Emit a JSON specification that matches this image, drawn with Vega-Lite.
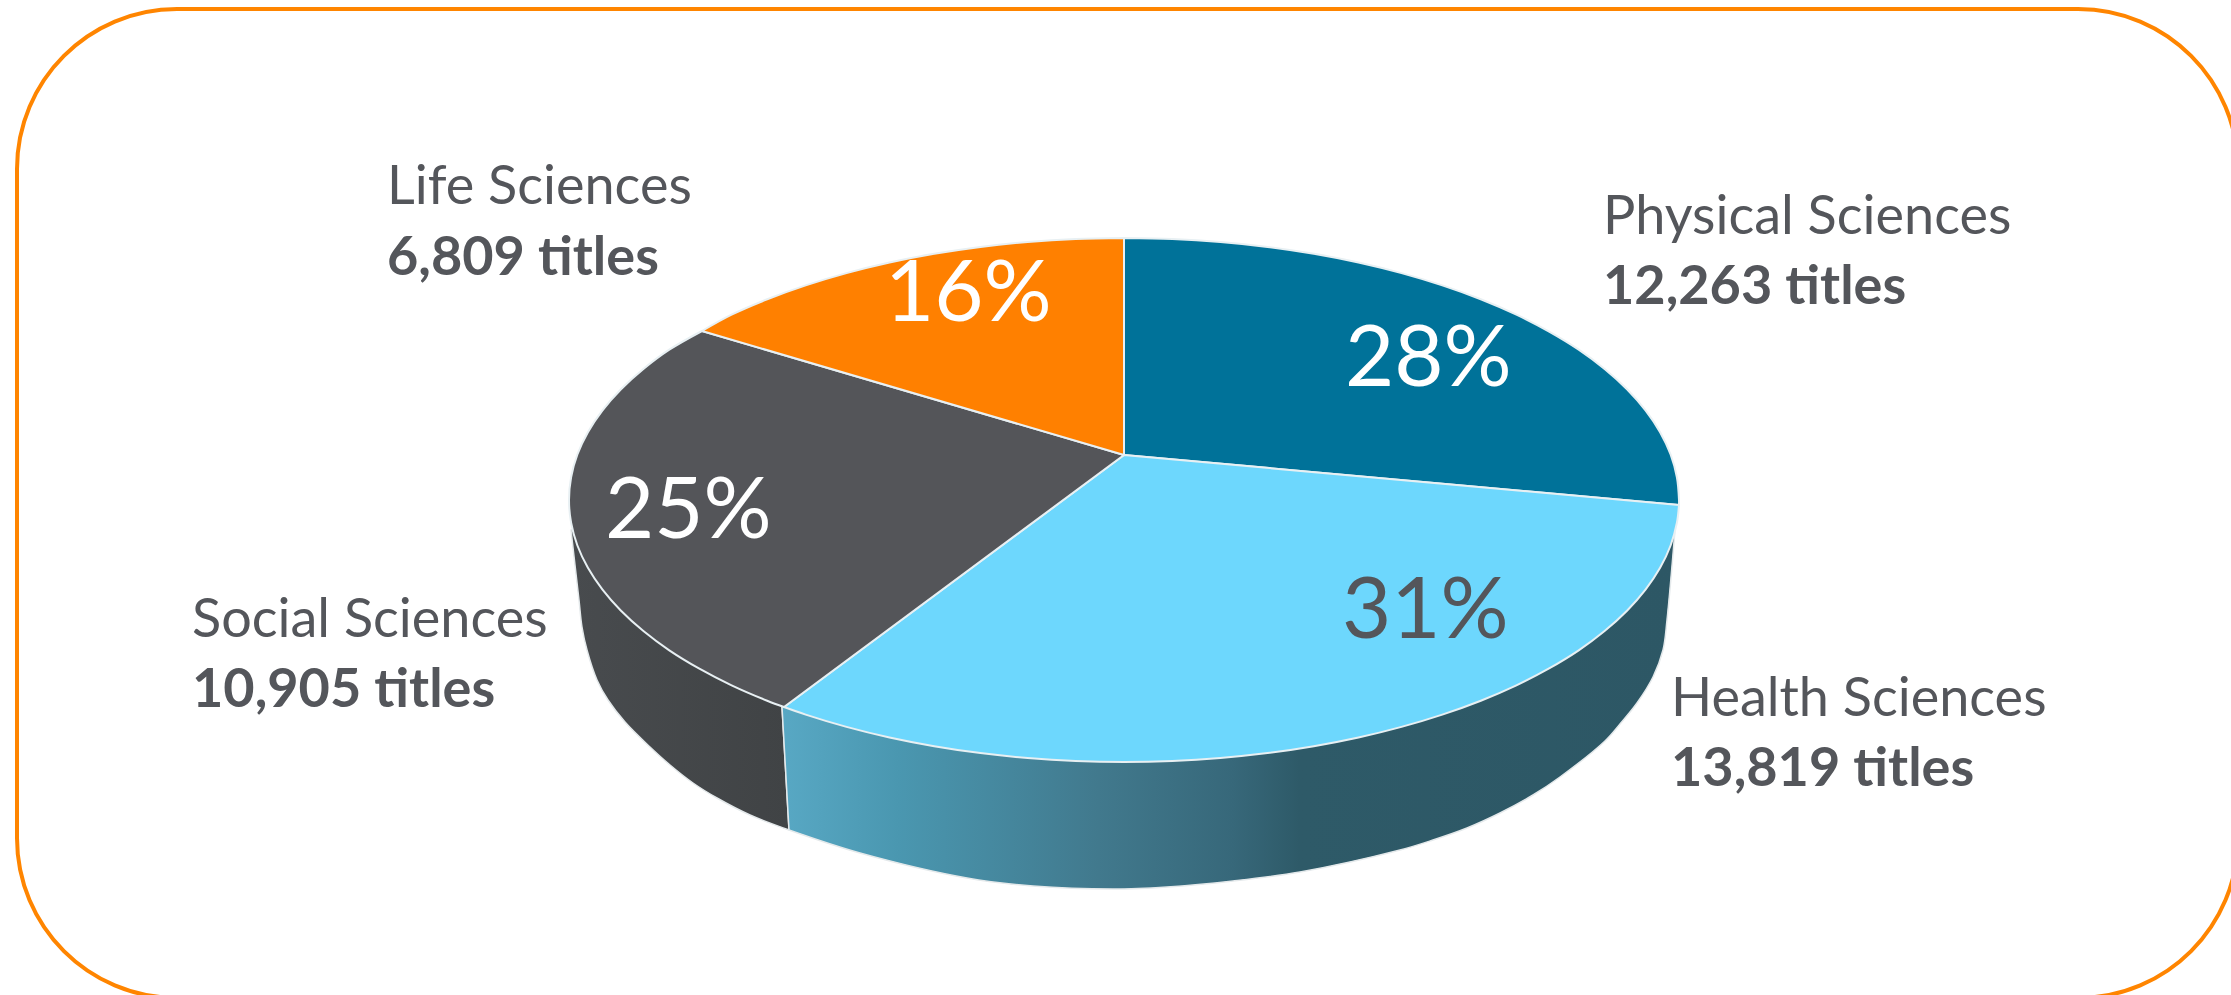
{
"$schema":"https://vega.github.io/schema/vega-lite/v6.json",
"width":2221,"height":989,
"autosize":{"type":"none"},
"padding":{"left":17,"top":9,"right":0,"bottom":0},
"background":"#ffffff",
"view":{"stroke":"#ff8500","strokeWidth":4,"cornerRadius":160,"fill":"#ffffff"},
"config":{"text":{"font":"Lato"}},
"datasets":{
"labels":[
{"category":"Physical Sciences","titles":12263,"titlesLabel":"12,263 titles","share":"28%","labelX":1603,"nameY":234,"titlesY":304,"shareX":1345,"shareY":386},
{"category":"Health Sciences","titles":13819,"titlesLabel":"13,819 titles","share":"31%","labelX":1671,"nameY":716,"titlesY":786,"shareX":1342,"shareY":638},
{"category":"Social Sciences","titles":10905,"titlesLabel":"10,905 titles","share":"25%","labelX":192,"nameY":637,"titlesY":707,"shareX":605,"shareY":538},
{"category":"Life Sciences","titles":6809,"titlesLabel":"6,809 titles","share":"16%","labelX":387,"nameY":204,"titlesY":275,"shareX":885,"shareY":321}
],
"socialWall":[
{"n":0,"x":782,"y":707},{"n":1,"x":782,"y":707},{"n":2,"x":789,"y":830},{"n":3,"x":789,"y":830},{"n":4,"x":750,"y":815},{"n":5,"x":717,"y":798},{"n":6,"x":693,"y":783},{"n":7,"x":670,"y":765},{"n":8,"x":650,"y":747},{"n":9,"x":625,"y":722},{"n":10,"x":608,"y":700},{"n":11,"x":597,"y":680},{"n":12,"x":587,"y":650},{"n":13,"x":582,"y":627},{"n":14,"x":579,"y":600},{"n":15,"x":571,"y":530},{"n":16,"x":571,"y":530},{"n":17,"x":700,"y":500},{"n":18,"x":700,"y":500},{"n":19,"x":782,"y":707},{"n":20,"x":782,"y":707}
],
"healthWall":[
{"n":0,"x":782,"y":707},{"n":1,"x":782,"y":707},{"n":2,"x":789,"y":830},{"n":3,"x":789,"y":830},{"n":4,"x":860,"y":853},{"n":5,"x":967,"y":878},{"n":6,"x":1033,"y":886},{"n":7,"x":1113,"y":889},{"n":8,"x":1167,"y":887},{"n":9,"x":1233,"y":881},{"n":10,"x":1300,"y":872},{"n":11,"x":1400,"y":850},{"n":12,"x":1433,"y":840},{"n":13,"x":1467,"y":828},{"n":14,"x":1500,"y":813},{"n":15,"x":1533,"y":795},{"n":16,"x":1560,"y":777},{"n":17,"x":1605,"y":741},{"n":18,"x":1620,"y":724},{"n":19,"x":1637,"y":703},{"n":20,"x":1653,"y":677},{"n":21,"x":1663,"y":650},{"n":22,"x":1667,"y":620},{"n":23,"x":1675,"y":530},{"n":24,"x":1675,"y":530},{"n":25,"x":1500,"y":500},{"n":26,"x":1500,"y":500},{"n":27,"x":782,"y":707},{"n":28,"x":782,"y":707}
],
"physical":[
{"n":0,"x":1124,"y":455},{"n":1,"x":1124,"y":455},{"n":2,"x":1124,"y":238},{"n":3,"x":1124,"y":238},{"n":4,"x":1172.4,"y":239},{"n":5,"x":1220.4,"y":242},{"n":6,"x":1267.6,"y":246.9},{"n":7,"x":1313.8,"y":253.8},{"n":8,"x":1358.5,"y":262.5},{"n":9,"x":1401.5,"y":273.1},{"n":10,"x":1442.3,"y":285.4},{"n":11,"x":1480.8,"y":299.3},{"n":12,"x":1516.4,"y":314.7},{"n":13,"x":1549.1,"y":331.6},{"n":14,"x":1578.7,"y":349.7},{"n":15,"x":1604.6,"y":369},{"n":16,"x":1627,"y":389.3},{"n":17,"x":1645.5,"y":410.4},{"n":18,"x":1660.1,"y":432.2},{"n":19,"x":1670.6,"y":454.5},{"n":20,"x":1676.9,"y":477.2},{"n":21,"x":1679,"y":500},{"n":22,"x":1679,"y":505},{"n":23,"x":1679,"y":505},{"n":24,"x":1124,"y":455},{"n":25,"x":1124,"y":455}
],
"health":[
{"n":0,"x":1124,"y":455},{"n":1,"x":1124,"y":455},{"n":2,"x":1679,"y":505},{"n":3,"x":1679,"y":505},{"n":4,"x":1676.9,"y":522.8},{"n":5,"x":1670.6,"y":545.5},{"n":6,"x":1660.1,"y":567.8},{"n":7,"x":1645.5,"y":589.6},{"n":8,"x":1627,"y":610.7},{"n":9,"x":1604.6,"y":631},{"n":10,"x":1578.7,"y":650.3},{"n":11,"x":1549.1,"y":668.4},{"n":12,"x":1516.4,"y":685.3},{"n":13,"x":1480.8,"y":700.7},{"n":14,"x":1442.3,"y":714.6},{"n":15,"x":1401.5,"y":726.9},{"n":16,"x":1358.5,"y":737.5},{"n":17,"x":1313.8,"y":746.2},{"n":18,"x":1267.6,"y":753.1},{"n":19,"x":1220.4,"y":758},{"n":20,"x":1172.4,"y":761},{"n":21,"x":1124,"y":762},{"n":22,"x":1075.6,"y":761},{"n":23,"x":1027.6,"y":758},{"n":24,"x":980.4,"y":753.1},{"n":25,"x":934.2,"y":746.2},{"n":26,"x":889.5,"y":737.5},{"n":27,"x":846.5,"y":726.9},{"n":28,"x":805.7,"y":714.6},{"n":29,"x":784,"y":707},{"n":30,"x":784,"y":707},{"n":31,"x":1124,"y":455},{"n":32,"x":1124,"y":455}
],
"social":[
{"n":0,"x":1124,"y":455},{"n":1,"x":1124,"y":455},{"n":2,"x":784,"y":707},{"n":3,"x":784,"y":707},{"n":4,"x":767.2,"y":700.7},{"n":5,"x":731.6,"y":685.3},{"n":6,"x":698.9,"y":668.4},{"n":7,"x":669.3,"y":650.3},{"n":8,"x":643.4,"y":631},{"n":9,"x":621,"y":610.7},{"n":10,"x":602.5,"y":589.6},{"n":11,"x":587.9,"y":567.8},{"n":12,"x":577.4,"y":545.5},{"n":13,"x":571.1,"y":522.8},{"n":14,"x":569,"y":500},{"n":15,"x":571.1,"y":477.2},{"n":16,"x":577.4,"y":454.5},{"n":17,"x":587.9,"y":432.2},{"n":18,"x":602.5,"y":410.4},{"n":19,"x":621,"y":389.3},{"n":20,"x":643.4,"y":369},{"n":21,"x":669.3,"y":349.7},{"n":22,"x":702,"y":331},{"n":23,"x":702,"y":331},{"n":24,"x":1124,"y":455},{"n":25,"x":1124,"y":455}
],
"life":[
{"n":0,"x":1124,"y":455},{"n":1,"x":1124,"y":455},{"n":2,"x":702,"y":331},{"n":3,"x":702,"y":331},{"n":4,"x":731.6,"y":314.7},{"n":5,"x":767.2,"y":299.3},{"n":6,"x":805.7,"y":285.4},{"n":7,"x":846.5,"y":273.1},{"n":8,"x":889.5,"y":262.5},{"n":9,"x":934.2,"y":253.8},{"n":10,"x":980.4,"y":246.9},{"n":11,"x":1027.6,"y":242},{"n":12,"x":1075.6,"y":239},{"n":13,"x":1124,"y":238},{"n":14,"x":1124,"y":238},{"n":15,"x":1124,"y":455},{"n":16,"x":1124,"y":455}
]
},
"layer":[
{
"encoding":{
"x":{"field":"x","type":"quantitative","axis":null,"scale":{"domain":[17,2238],"nice":false,"zero":false}},
"y":{"field":"y","type":"quantitative","axis":null,"scale":{"domain":[9,998],"nice":false,"zero":false,"reverse":true}},
"order":{"field":"n","type":"quantitative"}
},
"layer":[
{"data":{"name":"socialWall"},"mark":{"type":"line","interpolate":"catmull-rom","fill":{"gradient":"linear","x1":0,"y1":0,"x2":1,"y2":0,"stops":[{"offset":0,"color":"#484b4e"},{"offset":1,"color":"#404345"}]},"stroke":"#e4e9eb","strokeWidth":1.5,"strokeJoin":"round"}},
{"data":{"name":"healthWall"},"mark":{"type":"line","interpolate":"catmull-rom","fill":{"gradient":"linear","x1":0,"y1":0,"x2":1,"y2":0,"stops":[{"offset":0,"color":"#58a8c4"},{"offset":0.13,"color":"#4a97b0"},{"offset":0.355,"color":"#41798d"},{"offset":0.504,"color":"#37687a"},{"offset":0.58,"color":"#2e5a68"},{"offset":1,"color":"#2d5765"}]},"stroke":"#e4e9eb","strokeWidth":1.5,"strokeJoin":"round"}},
{"data":{"name":"physical"},"mark":{"type":"line","interpolate":"catmull-rom","fill":"#007299","stroke":"#e8f0f3","strokeWidth":2,"strokeJoin":"round"}},
{"data":{"name":"health"},"mark":{"type":"line","interpolate":"catmull-rom","fill":"#6dd7fd","stroke":"#e8f0f3","strokeWidth":2,"strokeJoin":"round"}},
{"data":{"name":"social"},"mark":{"type":"line","interpolate":"catmull-rom","fill":"#545559","stroke":"#e8f0f3","strokeWidth":2,"strokeJoin":"round"}},
{"data":{"name":"life"},"mark":{"type":"line","interpolate":"catmull-rom","fill":"#ff8000","stroke":"#e8f0f3","strokeWidth":2,"strokeJoin":"round"}}
]
},
{"data":{"name":"labels"},"mark":{"type":"text","align":"left","baseline":"alphabetic","fontSize":54,"fontWeight":400,"color":"#54565b"},
"encoding":{"x":{"field":"labelX","type":"quantitative","axis":null},"y":{"field":"nameY","type":"quantitative","axis":null},"text":{"field":"category"}}},
{"data":{"name":"labels"},"mark":{"type":"text","align":"left","baseline":"alphabetic","fontSize":54,"fontWeight":700,"color":"#54565b"},
"encoding":{"x":{"field":"labelX","type":"quantitative","axis":null},"y":{"field":"titlesY","type":"quantitative","axis":null},"text":{"field":"titlesLabel"}}},
{"data":{"name":"labels"},"mark":{"type":"text","align":"left","baseline":"alphabetic","fontSize":85,"fontWeight":400},
"encoding":{"x":{"field":"shareX","type":"quantitative","axis":null},"y":{"field":"shareY","type":"quantitative","axis":null},"text":{"field":"share"},
"color":{"condition":{"test":"datum.category==='Health Sciences'","value":"#54565b"},"value":"#ffffff"}}}
]
}
